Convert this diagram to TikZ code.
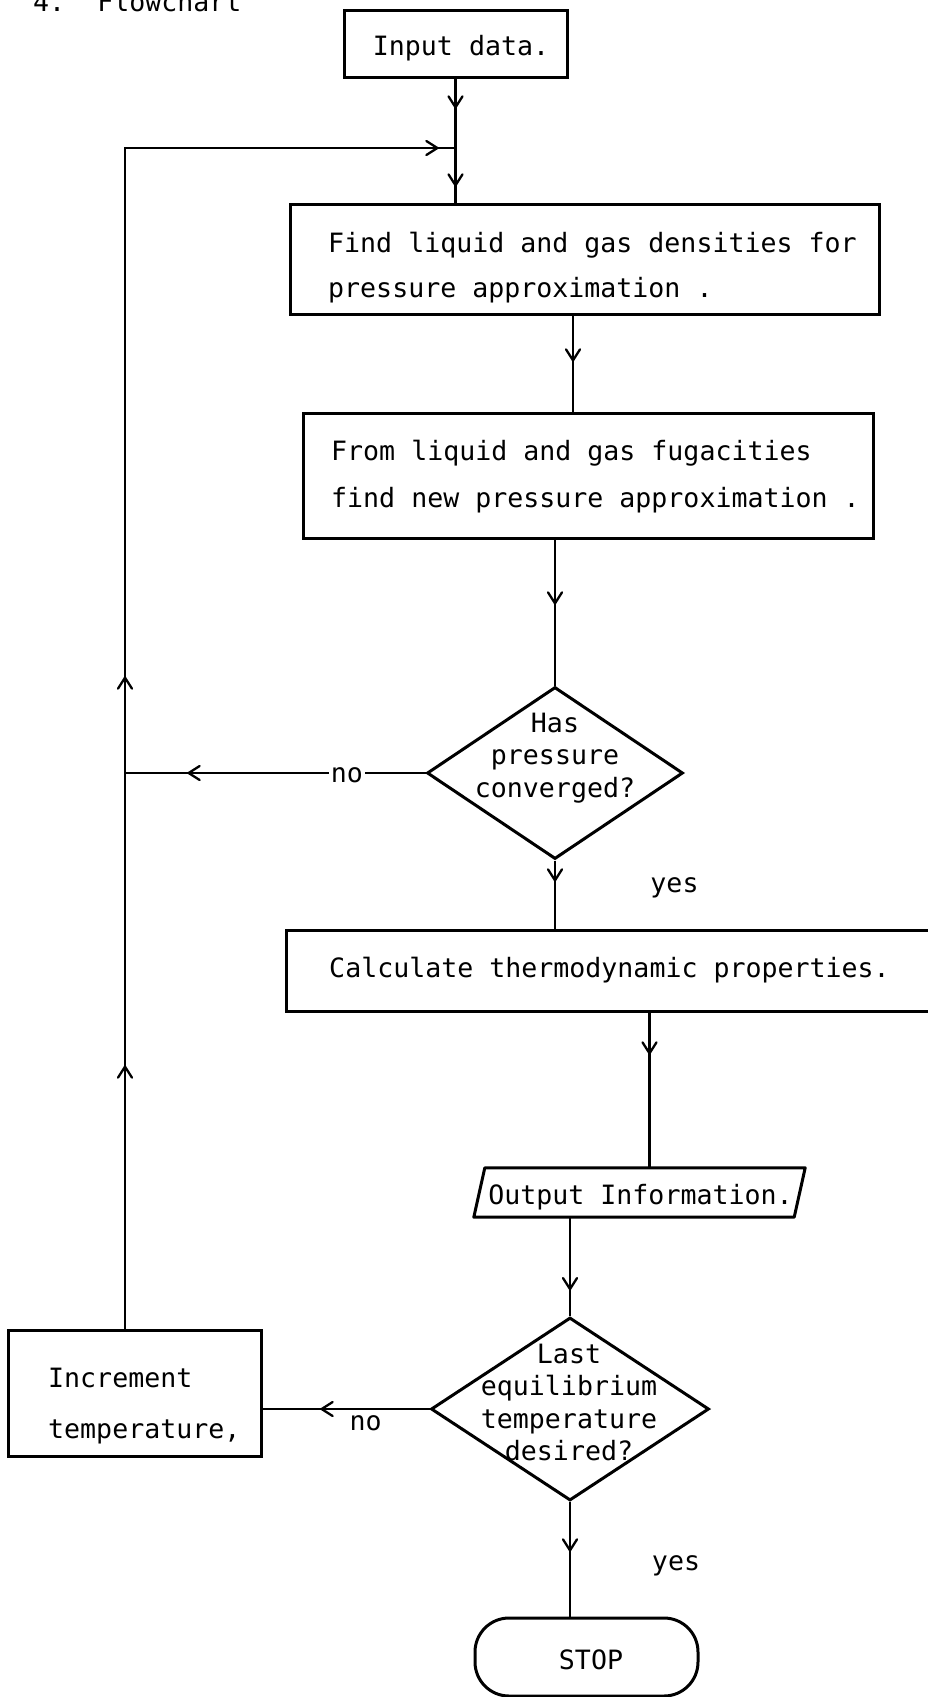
\documentclass[tikz,border=0pt]{standalone}
\usepackage{fontspec}
\setmonofont{DejaVu Sans Mono}
\usetikzlibrary{arrows.meta, shapes.geometric, decorations.markings}

\begin{document}
\begin{tikzpicture}[x=1pt, y=-1pt,
  every node/.style={inner sep=0pt, font=\ttfamily\fontsize{26.6}{45}\selectfont},
  lead/.style={font=\ttfamily\fontsize{26.6}{#1}\selectfont},
  txt/.style={align=left},
  box/.style={draw, line width=3pt, rectangle},
  decision/.style={draw, line width=3pt, diamond},
  terminal/.style={draw, line width=3pt, rectangle, rounded corners=34pt},
  io/.style={rectangle},
  outline/.style={line width=3pt, line join=round},
  flow/.style={line width=2.3pt},
  barbat/.style={postaction={decorate, decoration={markings,
      mark=at position #1 with {\arrow{Straight Barb[length=11pt, width=14pt, round]}}}}},
]
\useasboundingbox (0,0) rectangle (928,1697);

% heading
\node[anchor=base west] (title) at (33,11) {4.\ \ Flowchart};

% process boxes
\node[box, minimum width=223pt, minimum height=67pt] (input) at (455.5,43.5) {};
\node[anchor=base] (input-t) at (461,55) {Input data.};

\node[box, minimum width=589pt, minimum height=110pt] (find) at (584.5,259) {};
\node[txt, anchor=north west] (find-t) at (328,231.8)
  {Find liquid and gas densities for\\pressure approximation .};

\node[box, minimum width=570pt, minimum height=125pt] (from) at (588,475.5) {};
\node[txt, lead=47, anchor=north west] (from-t) at (331,439.8)
  {From liquid and gas fugacities\\find new pressure approximation .};

\node[decision, minimum width=256pt, minimum height=172pt] (dia1) at (555,773) {};
\node[align=center, lead=32.5, anchor=north] (dia1-t) at (555,712.6)
  {Has\\pressure\\converged?};

\node[box, minimum width=654pt, minimum height=81pt] (calc) at (613,970.5) {};
\node[anchor=base] (calc-t) at (609.5,977) {Calculate thermodynamic properties.};

% input/output parallelogram: slanted outline drawn on the node's corners
\node[io, minimum width=331pt, minimum height=49pt] (output) at (639.5,1192.5) {};
\draw[outline] (output.south west) -- ([xshift=11pt]output.north west)
  -- (output.north east) -- ([xshift=-11pt]output.south east) -- cycle;
\node[anchor=base] (output-t) at (640.5,1204) {Output Information.};

\node[decision, minimum width=278pt, minimum height=183pt] (dia2) at (570,1409) {};
\node[align=center, lead=32.5, anchor=north] (dia2-t) at (569,1343.6)
  {Last\\equilibrium\\temperature\\desired?};

\node[box, minimum width=253pt, minimum height=126pt] (incr) at (134.5,1393) {};
\node[txt, lead=51, anchor=north west] (incr-t) at (48,1367.6)
  {Increment\\temperature,};

\node[terminal, minimum width=223pt, minimum height=78pt] (stop) at (586.5,1657) {};
\node[anchor=base] (stop-t) at (591,1669) {STOP};

% branch labels
\node[anchor=base] (yes1) at (674.5,892) {yes};
\node[anchor=base] (yes2) at (676,1570) {yes};

% connectors
\coordinate (lp) at (125,148);
\coordinate (c1) at ([xshift=10pt]output.north);
\coordinate (c2) at ([xshift=-11.5pt]find.south);

\draw[flow, barbat=30pt, barbat=108pt] (input.south) -- (input.south |- find.north);
\draw[flow, barbat=46pt] (c2) -- (c2 |- from.north);
\draw[flow, barbat=65pt] (dia1.north |- from.south) -- (dia1.north);
\draw[flow, barbat=21pt] (dia1.south) -- (dia1.south |- calc.north);
\draw[flow, barbat=42pt] (c1 |- calc.south) -- (c1);
\draw[flow, barbat=73pt] (dia2.north |- output.south) -- (dia2.north);
\draw[flow, barbat=49.5pt] (dia2.south) -- (dia2.south |- stop.north);

\draw[flow, barbat=238pt] (dia1.west) --
  node[pos=0.262, anchor=base, yshift=-9pt, fill=white, inner xsep=2pt, inner ysep=2pt] (no1) {no}
  (dia1.west -| lp);
\draw[flow, barbat=109pt] (dia2.west) --
  node[pos=0.382, anchor=base, yshift=-21pt] (no2) {no}
  (dia2.west -| incr.east);

% loop back from the temperature increment to the top
\draw[flow, barbat=263pt, barbat=652pt, barbat=1494pt]
  (incr.north -| lp) -- (lp) -- (lp -| input.south);
\end{tikzpicture}
\end{document}
